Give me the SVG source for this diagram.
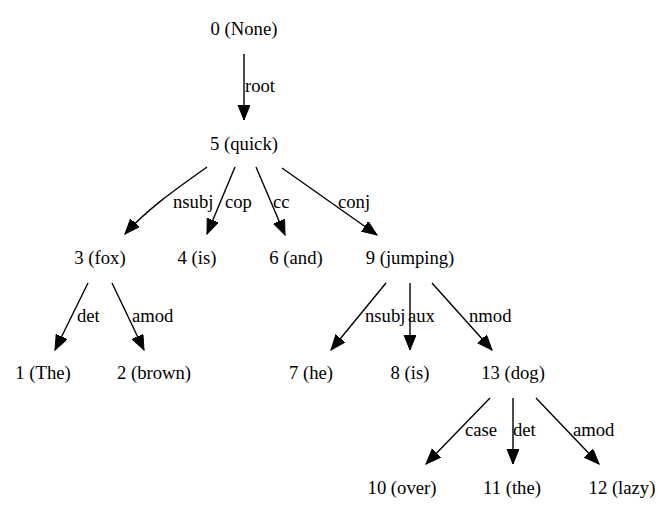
<svg xmlns="http://www.w3.org/2000/svg" width="670" height="517" viewBox="0 0 670 517">
<style>
text { font-family: "Liberation Serif", "Times New Roman", serif; font-size: 18.67px; fill: #000; }
.n { text-anchor: middle; }
.e { fill: none; stroke: #000; stroke-width: 1.4; marker-end: url(#arr); }
</style>
<defs>
<marker id="arr" markerUnits="userSpaceOnUse" markerWidth="16" markerHeight="14" refX="15" refY="6" orient="auto">
<path d="M0,0 L15,6 L0,12 z" fill="#000" stroke="#000" stroke-width="1"/>
</marker>
</defs>
<rect width="670" height="517" fill="#fff"/>
<g id="connectors">
<path class="e" d="M244,54 L244,120"/>
<path class="e" d="M207,167 C185,183 150,206 125,234"/>
<path class="e" d="M235,167 L207,234"/>
<path class="e" d="M256,167 L285,235"/>
<path class="e" d="M282,168 L377,235"/>
<path class="e" d="M88,283 L55,350"/>
<path class="e" d="M112,283 L144,350"/>
<path class="e" d="M386,283 L331,350"/>
<path class="e" d="M410,283 L410,350"/>
<path class="e" d="M432,283 L492,350"/>
<path class="e" d="M490,398 L426,464"/>
<path class="e" d="M513,398 L513,464"/>
<path class="e" d="M536,398 L599,464"/>
<text x="245" y="92">root</text>
<text x="173" y="208">nsubj</text>
<text x="225" y="208">cop</text>
<text x="273" y="208">cc</text>
<text x="338" y="208">conj</text>
<text x="77" y="322">det</text>
<text x="132" y="322">amod</text>
<text x="365" y="322">nsubj</text>
<text x="408" y="322">aux</text>
<text x="469" y="322">nmod</text>
<text x="465" y="436">case</text>
<text x="513" y="436">det</text>
<text x="573" y="436">amod</text>
</g>
<g id="n0"><text class="n" x="244" y="35">0 (None)</text></g>
<g id="n5"><text class="n" x="244" y="150">5 (quick)</text></g>
<g id="n3"><text class="n" x="100" y="264">3 (fox)</text></g>
<g id="n4"><text class="n" x="197" y="264">4 (is)</text></g>
<g id="n6"><text class="n" x="296" y="264">6 (and)</text></g>
<g id="n9"><text class="n" x="410" y="264">9 (jumping)</text></g>
<g id="n1"><text class="n" x="43" y="379">1 (The)</text></g>
<g id="n2"><text class="n" x="154" y="379">2 (brown)</text></g>
<g id="n7"><text class="n" x="311" y="379">7 (he)</text></g>
<g id="n8"><text class="n" x="410" y="379">8 (is)</text></g>
<g id="n13"><text class="n" x="513" y="379">13 (dog)</text></g>
<g id="n10"><text class="n" x="402" y="494">10 (over)</text></g>
<g id="n11"><text class="n" x="512" y="494">11 (the)</text></g>
<g id="n12"><text class="n" x="622" y="494">12 (lazy)</text></g>
</svg>
